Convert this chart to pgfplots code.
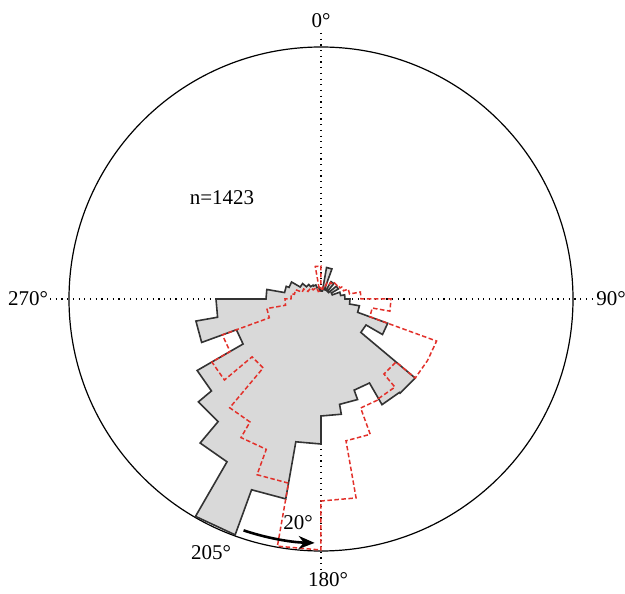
\documentclass[border=0pt]{standalone}
\usepackage{fontspec}
\setmainfont{Liberation Serif}
\usepackage{pgfplots}
\usepackage{pgfplotstable}
\pgfplotsset{compat=1.18}
\usepgfplotslibrary{polar}
\usetikzlibrary{arrows.meta}
\definecolor{rosegray}{HTML}{D9D9D9}
\definecolor{roseedge}{HTML}{333333}
\definecolor{rosered}{HTML}{E2302A}

% bearing (deg, clockwise from north)  radius (bin value)
\pgfplotstableread{
b r
0 8
10 8
10 32
20 32
20 10
30 10
30 20
40 20
40 10
50 10
50 20
60 20
60 12
70 12
70 20
80 20
80 24
90 24
90 29
100 29
100 39
110 39
110 71
120 71
120 52
130 52
130 123
140 123
140 122
150 122
150 97
160 97
160 107
170 107
170 117
180 117
180 145
190 145
190 203
200 203
200 251
210 251
210 188
220 188
220 160
230 160
230 143
240 143
240 90
250 90
250 127
260 127
260 105
270 105
270 55
280 55
280 37
290 37
290 34
300 34
300 24
310 24
310 19
320 19
320 16
330 16
330 15
340 15
340 12
350 12
350 9
360 9
360 8
}\graydata

\pgfplotstableread{
b r
0 10
10 10
10 14
20 14
20 17
30 17
30 19
40 19
40 21
50 21
50 22
60 22
60 24
70 24
70 29
80 29
80 40
90 40
90 70
100 70
100 52
110 52
110 123
120 123
120 123
130 123
130 98
140 98
140 115
150 115
150 116
160 116
160 144
170 144
170 202
180 202
180 251
190 251
190 187
200 187
200 160
210 160
210 142
220 142
220 90
230 90
230 126
240 126
240 105
250 105
250 55
260 55
260 36
270 36
270 30
280 30
280 27
290 27
290 20
300 20
300 15
310 15
310 13
320 13
320 12
330 12
330 10
340 10
340 8
350 8
350 33
360 33
360 10
}\reddata

\begin{document}
\begin{tikzpicture}[x=1pt,y=1pt]
\path[use as bounding box] (0,0) rectangle (625,594);
\draw[line width=1.2pt, dash pattern=on 1.2pt off 4.5pt] (321,561) -- (321,21);
\draw[line width=1.2pt, dash pattern=on 1.2pt off 4.5pt] (50,295) -- (592,295);
\begin{polaraxis}[
  at={(321pt,295pt)}, anchor=center,
  width=504pt, height=504pt, scale only axis,
  ymin=0, ymax=252, xmin=0, xmax=360,
  xtick=\empty, ytick=\empty,
  x axis line style={line width=1.2pt},
  y axis line style={draw=none},
  clip=false,
]
\addplot[draw=roseedge, line width=1.6pt, fill=rosegray, line join=miter]
  table[x expr=90-\thisrow{b}, y=r] {\graydata} -- cycle;
\addplot[draw=rosered, line width=1.5pt, dash pattern=on 4.5pt off 2.5pt, line join=miter]
  table[x expr=90-\thisrow{b}, y=r] {\reddata};
\draw[line width=2.6pt, -{Stealth[length=16pt, width=13pt]}]
  (axis cs:-108.5,244) arc[start angle=-108.5, end angle=-91.5, radius=244pt];
\end{polaraxis}
\node[font=\fontsize{21}{25}\selectfont] at (321,573) {0°};
\node[font=\fontsize{21}{25}\selectfont] at (328,14) {180°};
\node[font=\fontsize{21}{25}\selectfont] at (28,295) {270°};
\node[font=\fontsize{21}{25}\selectfont] at (611,295) {90°};
\node[font=\fontsize{21}{25}\selectfont] at (222,396) {n=1423};
\node[font=\fontsize{21}{25}\selectfont] at (211,41) {205°};
\node[font=\fontsize{21}{25}\selectfont] at (298,71) {20°};
\end{tikzpicture}
\end{document}
